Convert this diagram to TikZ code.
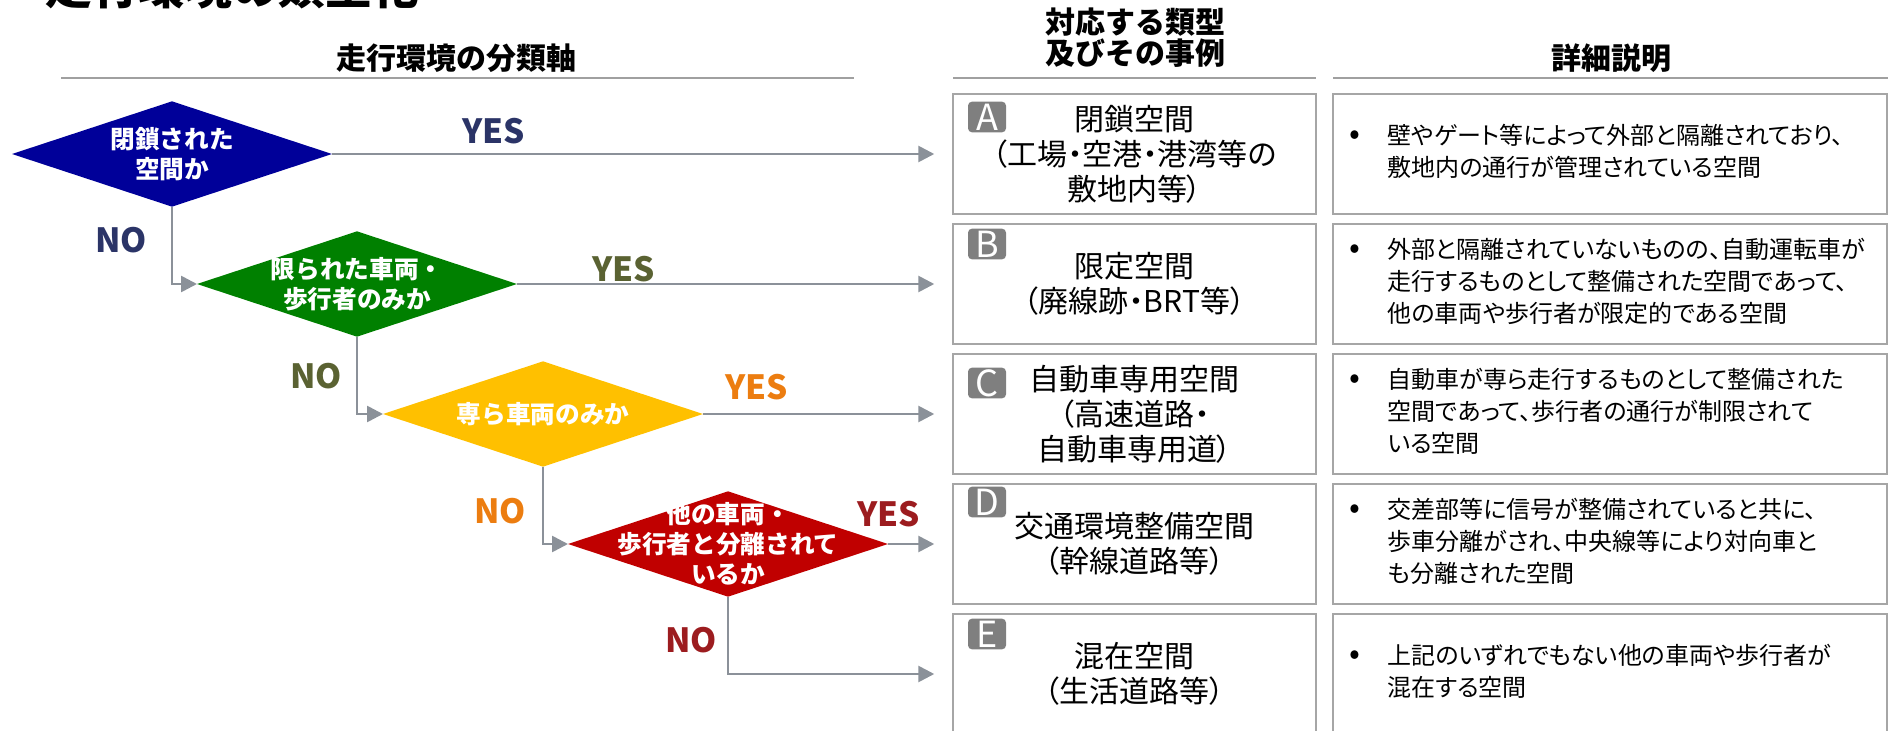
\documentclass[tikz,border=0pt]{standalone}
\usepackage{fontspec}
\setmainfont{Noto Sans CJK JP}
\newfontfamily\propjp{Noto Sans CJK JP}[RawFeature=+palt]
\usetikzlibrary{shapes.geometric,arrows.meta}

\tikzset{every picture/.style={line width=0.75pt}}
\tikzset{
  dia/.style={shape=diamond, inner sep=0pt, outer sep=0pt, minimum width=240pt, minimum height=79pt},
  qtext/.style={text={rgb, 255:red, 255; green, 255; blue, 255}, font=\fontsize{18.5}{22.5}\selectfont\bfseries, align=center, inner sep=0pt},
  flowarr/.style={draw={rgb, 255:red, 139; green, 145; blue, 153}, line width=2pt, -{Triangle[length=12pt,width=12pt]}},
  ansr/.style={font=\fontsize{25}{25}\selectfont\bfseries, inner sep=0pt},
  hdr/.style={font=\fontsize{22.5}{23.3}\selectfont\bfseries, align=center, inner sep=0pt},
  hdrline/.style={draw={rgb, 255:red, 160; green, 160; blue, 160}, line width=1.5pt},
  typbox/.style={draw={rgb, 255:red, 166; green, 166; blue, 166}, line width=1.1pt, minimum width=272.25pt, minimum height=90pt, inner sep=0pt, align=center, font=\propjp\fontsize{22.5}{26.3}\selectfont},
  descbox/.style={draw={rgb, 255:red, 166; green, 166; blue, 166}, line width=1.1pt, minimum height=90pt, text width=391.5pt, inner xsep=12pt, inner ysep=0pt, align=left, font=\propjp\fontsize{18}{24}\selectfont},
  badge/.style={fill={rgb, 255:red, 127; green, 127; blue, 127}, rounded corners=3pt, minimum width=28.5pt, minimum height=23pt, inner sep=0pt, text=white, font=\fontsize{27}{27}\selectfont}
}
\newcommand{\dsc}[1]{\begin{tabular}{@{}p{29pt}@{}l@{}}#1\end{tabular}}
\newcommand{\bu}{{\fontsize{24}{24}\selectfont •}}

\begin{document}
\begin{tikzpicture}[x=0.75pt,y=0.75pt,yscale=-1,xscale=1]
	\useasboundingbox (0,0) rectangle (1893,731);

	% Text Node
	\draw (45,5) node[anchor=base west, inner sep=0pt, font=\fontsize{35}{35}\selectfont\bfseries] (ttl) {走行環境の類型化};
	% Text Node
	\draw (456,58) node[hdr] (hdrAxis) {走行環境の分類軸};
	% Text Node
	\draw (1135,38) node[hdr] (hdrType) {対応する類型\\及びその事例};
	% Text Node
	\draw (1611,58) node[hdr] (hdrDesc) {詳細説明};

	%Straight Lines
	\draw[hdrline] (61,78) -- (854,78) ;
	\draw[hdrline] (953,78) -- (1316,78) ;
	\draw[hdrline] (1333,78) -- (1888,78) ;

	%Shape: Diamond
	\draw (172,154) node[dia, fill={rgb, 255:red, 0; green, 0; blue, 153}] (dia1) {};
	\draw (357,284) node[dia, fill={rgb, 255:red, 0; green, 128; blue, 0}] (dia2) {};
	\draw (543,414) node[dia, fill={rgb, 255:red, 255; green, 192; blue, 0}] (dia3) {};
	\draw (728,544) node[dia, fill={rgb, 255:red, 192; green, 0; blue, 0}] (dia4) {};
	% Text Node
	\draw (dia1) node[qtext] (q1) {閉鎖された\\空間か};
	\draw (dia2) node[qtext] (q2) {限られた車両・\\歩行者のみか};
	\draw (dia3) node[qtext] (q3) {専ら車両のみか};
	\draw (dia4) node[qtext] (q4) {他の車両・\\歩行者と分離されて\\いるか};

	%Shape: Rectangle
	\draw (1134.5,154) node[typbox] (typA) {閉鎖空間\\（工場・空港・港湾等の\\敷地内等）};
	\draw (1134.5,284) node[typbox] (typB) {限定空間\\（廃線跡・BRT等）};
	\draw (1134.5,414) node[typbox] (typC) {自動車専用空間\\（高速道路・\\自動車専用道）};
	\draw (1134.5,544) node[typbox] (typD) {交通環境整備空間\\（幹線道路等）};
	\draw (1134.5,674) node[typbox] (typE) {混在空間\\（生活道路等）};
	%Shape: Rounded Rect
	\draw (987,117) node[badge] (bdgA) {A};
	\draw (987,244) node[badge] (bdgB) {B};
	\draw (987,383) node[badge] (bdgC) {C};
	\draw (987,502) node[badge] (bdgD) {D};
	\draw (987,634) node[badge] (bdgE) {E};

	%Shape: Rectangle
	\draw (1610,154) node[descbox] (descA) {\dsc{\bu&壁やゲート等によって外部と隔離されており、\\&敷地内の通行が管理されている空間}};
	\draw (1610,284) node[descbox] (descB) {\dsc{\bu&外部と隔離されていないものの、自動運転車が\\&走行するものとして整備された空間であって、\\&他の車両や歩行者が限定的である空間}};
	\draw (1610,414) node[descbox] (descC) {\dsc{\bu&自動車が専ら走行するものとして整備された\\&空間であって、歩行者の通行が制限されて\\&いる空間}};
	\draw (1610,544) node[descbox] (descD) {\dsc{\bu&交差部等に信号が整備されていると共に、\\&歩車分離がされ、中央線等により対向車と\\&も分離された空間}};
	\draw (1610,674) node[descbox] (descE) {\dsc{\bu&上記のいずれでもない他の車両や歩行者が\\&混在する空間}};

	%Straight Lines
	\draw[flowarr] (dia1.east) -- ([xshift=-13.5pt]typA.west) ;
	\draw[flowarr] (dia2.east) -- ([xshift=-13.5pt]typB.west) ;
	\draw[flowarr] (dia3.east) -- ([xshift=-13.5pt]typC.west) ;
	\draw[flowarr] (dia4.east) -- ([xshift=-13.5pt]typD.west) ;
	\draw[flowarr] (dia1.south) |- (dia2.west) ;
	\draw[flowarr] (dia2.south) |- (dia3.west) ;
	\draw[flowarr] (dia3.south) |- (dia4.west) ;
	\draw[flowarr] (dia4.south) |- ([xshift=-13.5pt]typE.west) ;

	% Text Node
	\draw (494,131) node[ansr, text={rgb, 255:red, 43; green, 52; blue, 103}] (yes1) {YES};
	\draw (121,240) node[ansr, text={rgb, 255:red, 43; green, 52; blue, 103}] (no1) {NO};
	\draw (624,269) node[ansr, text={rgb, 255:red, 90; green, 98; blue, 50}] (yes2) {YES};
	\draw (316,376) node[ansr, text={rgb, 255:red, 90; green, 98; blue, 50}] (no2) {NO};
	\draw (757,387) node[ansr, text={rgb, 255:red, 236; green, 125; blue, 16}] (yes3) {YES};
	\draw (500,511) node[ansr, text={rgb, 255:red, 236; green, 125; blue, 16}] (no3) {NO};
	\draw (889,514) node[ansr, text={rgb, 255:red, 156; green, 28; blue, 31}] (yes4) {YES};
	\draw (691,640) node[ansr, text={rgb, 255:red, 156; green, 28; blue, 31}] (no4) {NO};

\end{tikzpicture}
\end{document}
